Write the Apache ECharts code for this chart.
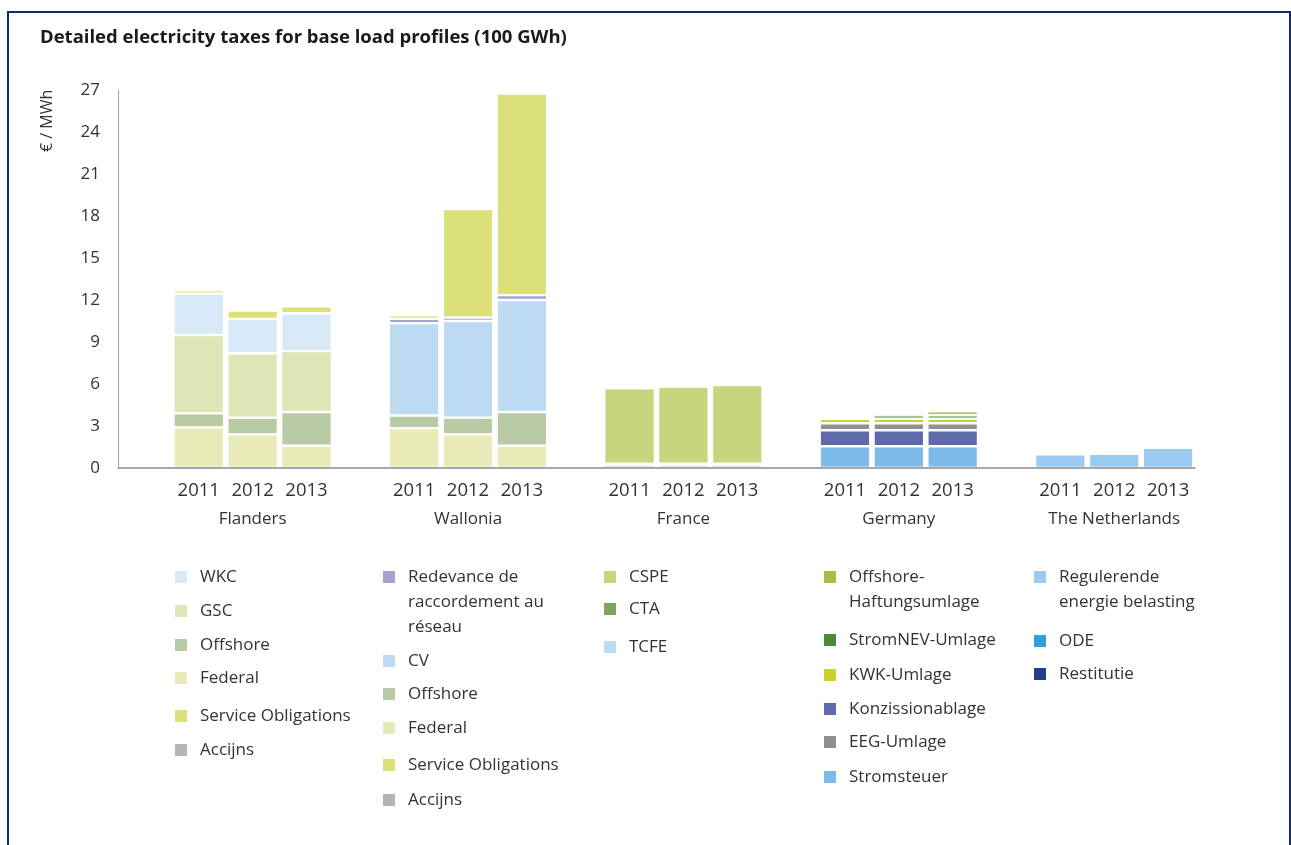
<!DOCTYPE html>
<html>
<head>
<meta charset="utf-8">
<title>Detailed electricity taxes for base load profiles</title>
<script src="https://cdn.jsdelivr.net/npm/echarts@6/dist/echarts.min.js"></script>
<style>
  html, body { margin: 0; padding: 0; background: #fff; overflow: hidden; }
  #frame { position: absolute; left: 7px; top: 11px; width: 1284px; height: 900px; border: 2px solid #0d2a6b; box-sizing: border-box; }
  #chart { position: absolute; left: 0; top: 0; width: 1291px; height: 845px; }
</style>
</head>
<body>
<div id="frame"></div>
<div id="chart"></div>
<script>
// categories
const years = ['2011', '2012', '2013'];
const countries = ['Flanders', 'Wallonia', 'France', 'Germany', 'The Netherlands'];
const yTicks = [0, 3, 6, 9, 12, 15, 18, 21, 24, 27];

// Flanders (€/MWh)
const flFederal = [2.9, 2.4, 1.6];
const flOffshore = [1.0, 1.2, 2.4];
const flGSC = [5.6, 4.6, 4.35];
const flWKC = [2.95, 2.45, 2.7];
const flAccijns = [0, 0, 0];
const flServiceObl = [0.25, 0.6, 0.5];

// Wallonia
const waFederal = [2.85, 2.4, 1.6];
const waOffshore = [0.9, 1.2, 2.4];
const waCV = [6.6, 6.9, 8.0];
const waRedevance = [0.3, 0.25, 0.35];
const waAccijns = [0, 0, 0];
const waServiceObl = [0.25, 7.75, 14.4];

// France
const frCTA = [0.2, 0.2, 0.2];
const frTCFE = [0.1, 0.1, 0.1];
const frCSPE = [5.4, 5.52, 5.62];

// Germany
const deStromsteuer = [1.55, 1.55, 1.55];
const deKonzession = [1.15, 1.15, 1.15];
const deEEG = [0.5, 0.5, 0.5];
const deKWK = [0.32, 0.32, 0.32];
const deStromNEV = [0, 0.25, 0.25];
const deOffshoreHaft = [0, 0, 0.28];

// The Netherlands
const nlRestitutie = [0, 0, 0];
const nlODE = [0, 0, 0];
const nlRegulerende = [0.97, 1.02, 1.45];

const FONT = '"Open Sans", "Noto Sans", sans-serif';

// one empty slot before each country group
const categories = [];
countries.forEach((c, ci) => {
  categories.push('gap' + ci);
  years.forEach(y => categories.push(c + ' ' + y));
});

function place(ci, values) {
  const d = categories.map(() => '-');
  values.forEach((v, yi) => { if (v > 0) d[ci * 4 + 1 + yi] = v; });
  return d;
}

// stacking order bottom -> top
const seriesDefs = [
  ['Flanders|Federal', 0, flFederal],
  ['Flanders|Offshore', 0, flOffshore],
  ['Flanders|GSC', 0, flGSC],
  ['Flanders|WKC', 0, flWKC],
  ['Flanders|Accijns', 0, flAccijns],
  ['Flanders|Service Obligations', 0, flServiceObl],
  ['Wallonia|Federal', 1, waFederal],
  ['Wallonia|Offshore', 1, waOffshore],
  ['Wallonia|CV', 1, waCV],
  ['Wallonia|Redevance', 1, waRedevance],
  ['Wallonia|Accijns', 1, waAccijns],
  ['Wallonia|Service Obligations', 1, waServiceObl],
  ['France|CTA', 2, frCTA],
  ['France|TCFE', 2, frTCFE],
  ['France|CSPE', 2, frCSPE],
  ['Germany|Stromsteuer', 3, deStromsteuer],
  ['Germany|Konzissionablage', 3, deKonzession],
  ['Germany|EEG-Umlage', 3, deEEG],
  ['Germany|KWK-Umlage', 3, deKWK],
  ['Germany|StromNEV-Umlage', 3, deStromNEV],
  ['Germany|Offshore-Haftungsumlage', 3, deOffshoreHaft],
  ['Netherlands|Restitutie', 4, nlRestitutie],
  ['Netherlands|ODE', 4, nlODE],
  ['Netherlands|Regulerende', 4, nlRegulerende]
];

const colors = {
  'Flanders|Federal': '#e8ebb8',
  'Flanders|Offshore': '#b9cba4',
  'Flanders|GSC': '#dee5b7',
  'Flanders|WKC': '#d8eaf8',
  'Flanders|Accijns': '#b5b5b5',
  'Flanders|Service Obligations': '#dce079',
  'Wallonia|Federal': '#e8ebb8',
  'Wallonia|Offshore': '#b9cba4',
  'Wallonia|CV': '#bddbf2',
  'Wallonia|Redevance': '#a2a5d2',
  'Wallonia|Accijns': '#b5b5b5',
  'Wallonia|Service Obligations': '#dce079',
  'France|CTA': '#80a562',
  'France|TCFE': '#bcdcf4',
  'France|CSPE': '#c7d57e',
  'Germany|Stromsteuer': '#7fbbe9',
  'Germany|Konzissionablage': '#5e6aa9',
  'Germany|EEG-Umlage': '#909090',
  'Germany|KWK-Umlage': '#cbd22e',
  'Germany|StromNEV-Umlage': '#4b8a36',
  'Germany|Offshore-Haftungsumlage': '#a8bf3f',
  'Netherlands|Restitutie': '#233f8b',
  'Netherlands|ODE': '#2f9fdc',
  'Netherlands|Regulerende': '#9bcbf0'
};

const legendLabels = {
  'Wallonia|Redevance': 'Redevance de\nraccordement au\nréseau',
  'Germany|Offshore-Haftungsumlage': 'Offshore-\nHaftungsumlage',
  'Netherlands|Regulerende': 'Regulerende\nenergie belasting'
};
function labelOf(name) {
  return legendLabels[name] || name.split('|')[1];
}
function lineCount(name) {
  return labelOf(name).split('\n').length;
}
// legend centres the swatch on the text block, so pad with blank lines
// above to keep the swatch on the first line
function legendText(name) {
  return '\n'.repeat(lineCount(name) - 1) + labelOf(name);
}

// legend columns: swatch left, first-line centre of each entry
const legendLayout = [
  { left: 175, items: [['Flanders|WKC', 577], ['Flanders|GSC', 611], ['Flanders|Offshore', 645],
    ['Flanders|Federal', 678], ['Flanders|Service Obligations', 716], ['Flanders|Accijns', 750]] },
  { left: 383, items: [['Wallonia|Redevance', 577], ['Wallonia|CV', 661], ['Wallonia|Offshore', 694],
    ['Wallonia|Federal', 728], ['Wallonia|Service Obligations', 765], ['Wallonia|Accijns', 800]] },
  { left: 604, items: [['France|CSPE', 577], ['France|CTA', 609], ['France|TCFE', 647]] },
  { left: 824, items: [['Germany|Offshore-Haftungsumlage', 577], ['Germany|StromNEV-Umlage', 640],
    ['Germany|KWK-Umlage', 675], ['Germany|Konzissionablage', 709], ['Germany|EEG-Umlage', 742],
    ['Germany|Stromsteuer', 777]] },
  { left: 1034, items: [['Netherlands|Regulerende', 577], ['Netherlands|ODE', 641], ['Netherlands|Restitutie', 674]] }
];

const LH = 25;
const legends = [];
legendLayout.forEach(col => {
  col.items.forEach(([name, y]) => {
    const lines = lineCount(name);
    legends.push({
      orient: 'vertical',
      left: col.left,
      top: y - (2 * lines - 1) * LH / 2,
      padding: 0,
      selectedMode: false,
      icon: 'rect',
      itemWidth: 12,
      itemHeight: 12,
      itemStyle: { borderWidth: 0 },
      data: [name],
      formatter: legendText,
      textStyle: { fontFamily: FONT, fontSize: 17, color: '#333', lineHeight: LH, padding: [0, 0, 0, 8] }
    });
  });
});

const chart = echarts.init(document.getElementById('chart'));

chart.setOption({
  animation: false,
  title: {
    text: 'Detailed electricity taxes for base load profiles (100 GWh)',
    left: 40,
    top: 28,
    padding: 0,
    textStyle: { fontFamily: FONT, fontSize: 18.5, fontWeight: 'bold', color: '#1a1a1a' }
  },
  legend: legends,
  grid: { left: 118, right: 96, top: 90, bottom: 377 },
  xAxis: {
    type: 'category',
    data: categories,
    z: 5,
    axisLine: { lineStyle: { color: '#8c8c8c', width: 1.5 } },
    axisTick: { show: false },
    axisLabel: {
      interval: 0,
      margin: 9,
      fontFamily: FONT,
      fontSize: 18.5,
      color: '#333',
      lineHeight: 28,
      formatter: function (value, index) {
        const yi = index % 4 - 1;
        if (yi < 0) return '';
        let s = years[yi];
        if (yi === 1) s += '\n{c|' + countries[Math.floor(index / 4)] + '}';
        return s;
      },
      rich: { c: { fontFamily: FONT, fontSize: 17, color: '#333', lineHeight: 28 } }
    }
  },
  yAxis: {
    type: 'value',
    min: yTicks[0],
    max: yTicks[yTicks.length - 1],
    interval: 3,
    axisLine: { show: true, lineStyle: { color: '#a6a6a6', width: 1 } },
    axisTick: { show: false },
    splitLine: { show: false },
    axisLabel: { margin: 18, fontFamily: FONT, fontSize: 17, color: '#333' }
  },
  graphic: [{
    type: 'text',
    x: 47,
    y: 152,
    rotation: Math.PI / 2,
    style: { text: '€ / MWh', fontFamily: FONT, fontSize: 16, fill: '#333', align: 'left', verticalAlign: 'middle' }
  }],
  series: seriesDefs.map(([name, ci, values]) => ({
    name: name,
    type: 'bar',
    stack: 'tax',
    barCategoryGap: '6%',
    data: place(ci, values),
    itemStyle: { color: colors[name], borderColor: '#fff', borderWidth: 1.2 }
  }))
});
</script>
</body>
</html>
